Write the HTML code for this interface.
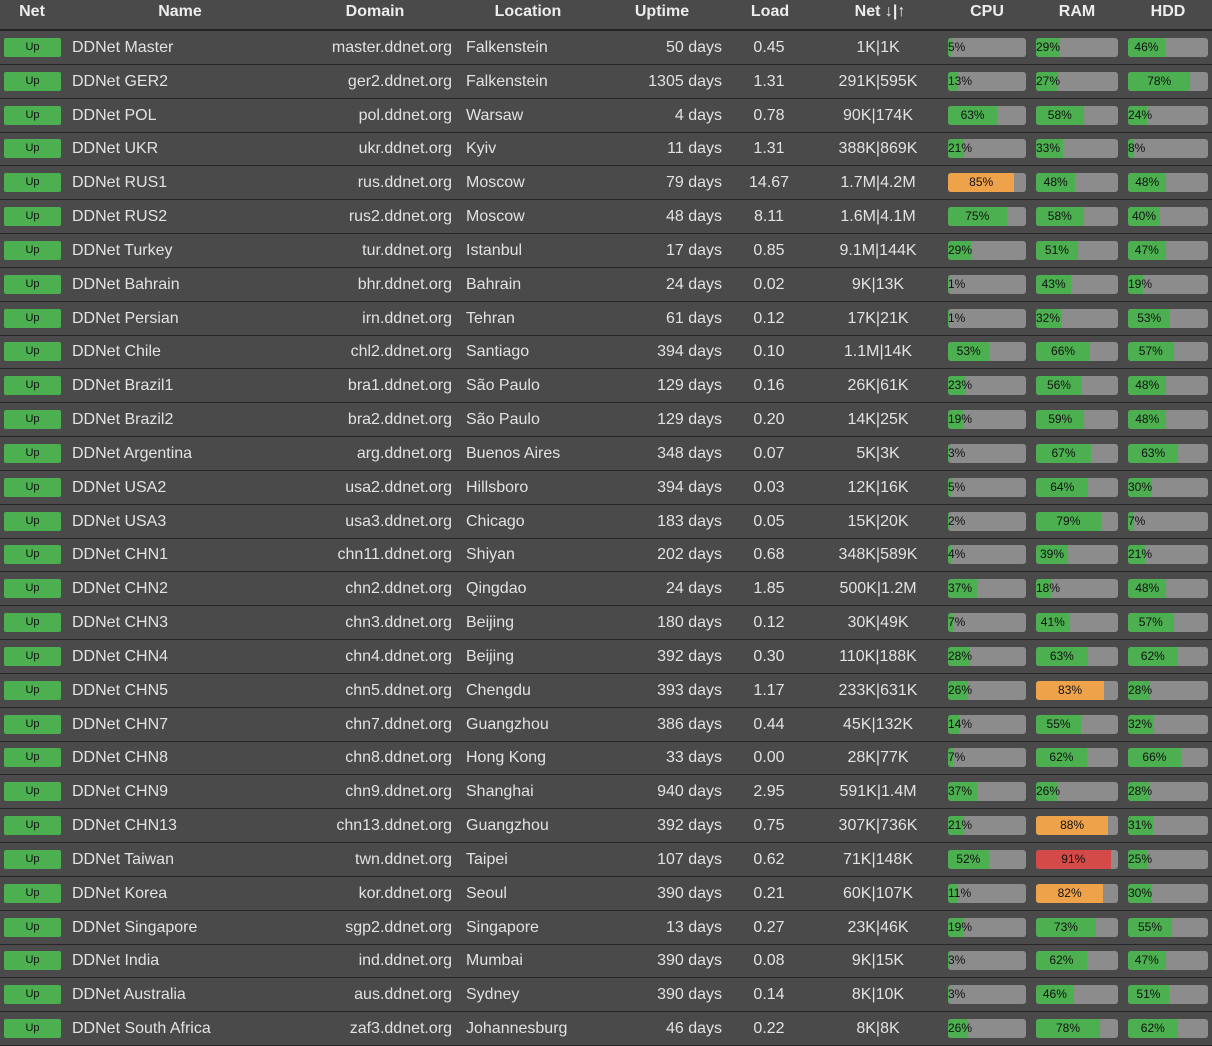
<!DOCTYPE html>
<html><head><meta charset="utf-8">
<style>
html,body{margin:0;padding:0;background:#4a4a4a;width:1212px;height:1043px;overflow:hidden;font-family:"Liberation Sans",sans-serif;}
#hdr{position:absolute;left:0;top:0;width:1212px;height:29px;border-bottom:2px solid #222;color:#ececec;font-weight:bold;font-size:16px;}
#hdr div{position:absolute;top:3px;text-align:center}
.row{position:absolute;left:0;width:1212px;height:33px;border-bottom:1px solid #262626;color:#e2e2e2;font-size:16px;}
.row > div{position:absolute;top:8px;white-space:nowrap}
.row > .up{position:absolute;left:4px;top:7px;width:57px;height:19px;background:#4caf50;border-radius:2px;font-size:11px;color:#111;text-align:center;line-height:19px}
.row > .bar{position:absolute;top:7px;height:19px;width:78px;background:#8c8c8c;border-radius:3px;overflow:hidden;font-size:12px;color:#111}
.fill{position:absolute;left:0;top:0;height:19px;line-height:19px}
.lbl{position:absolute;top:0;line-height:19px;white-space:nowrap}
</style></head><body>
<div id="hdr">
<div style="left:0;width:64px">Net</div>
<div style="left:100px;width:160px">Name</div>
<div style="left:320px;width:110px">Domain</div>
<div style="left:470px;width:116px">Location</div>
<div style="left:610px;width:104px">Uptime</div>
<div style="left:740px;width:60px">Load</div>
<div style="left:830px;width:100px">Net ↓|↑</div>
<div style="left:948px;width:78px">CPU</div>
<div style="left:1038px;width:78px">RAM</div>
<div style="left:1128px;width:80px">HDD</div>
</div>
<div id="body"></div>
<script>
const names=["DDNet Master","DDNet GER2","DDNet POL","DDNet UKR","DDNet RUS1","DDNet RUS2","DDNet Turkey","DDNet Bahrain","DDNet Persian","DDNet Chile","DDNet Brazil1","DDNet Brazil2","DDNet Argentina","DDNet USA2","DDNet USA3","DDNet CHN1","DDNet CHN2","DDNet CHN3","DDNet CHN4","DDNet CHN5","DDNet CHN7","DDNet CHN8","DDNet CHN9","DDNet CHN13","DDNet Taiwan","DDNet Korea","DDNet Singapore","DDNet India","DDNet Australia","DDNet South Africa"];
const domains=["master","ger2","pol","ukr","rus","rus2","tur","bhr","irn","chl2","bra1","bra2","arg","usa2","usa3","chn11","chn2","chn3","chn4","chn5","chn7","chn8","chn9","chn13","twn","kor","sgp2","ind","aus","zaf3"];
const locations=["Falkenstein","Falkenstein","Warsaw","Kyiv","Moscow","Moscow","Istanbul","Bahrain","Tehran","Santiago","São Paulo","São Paulo","Buenos Aires","Hillsboro","Chicago","Shiyan","Qingdao","Beijing","Beijing","Chengdu","Guangzhou","Hong Kong","Shanghai","Guangzhou","Taipei","Seoul","Singapore","Mumbai","Sydney","Johannesburg"];
const uptimes=[50,1305,4,11,79,48,17,24,61,394,129,129,348,394,183,202,24,180,392,393,386,33,940,392,107,390,13,390,390,46];
const loads=["0.45","1.31","0.78","1.31","14.67","8.11","0.85","0.02","0.12","0.10","0.16","0.20","0.07","0.03","0.05","0.68","1.85","0.12","0.30","1.17","0.44","0.00","2.95","0.75","0.62","0.21","0.27","0.08","0.14","0.22"];
const nets=["1K|1K","291K|595K","90K|174K","388K|869K","1.7M|4.2M","1.6M|4.1M","9.1M|144K","9K|13K","17K|21K","1.1M|14K","26K|61K","14K|25K","5K|3K","12K|16K","15K|20K","348K|589K","500K|1.2M","30K|49K","110K|188K","233K|631K","45K|132K","28K|77K","591K|1.4M","307K|736K","71K|148K","60K|107K","23K|46K","9K|15K","8K|10K","8K|8K"];
const cpu=[5,13,63,21,85,75,29,1,1,53,23,19,3,5,2,4,37,7,28,26,14,7,37,21,52,11,19,3,3,26];
const ram=[29,27,58,33,48,58,51,43,32,66,56,59,67,64,79,39,18,41,63,83,55,62,26,88,91,82,73,62,46,78];
const hdd=[46,78,24,8,48,40,47,19,53,57,48,48,63,30,7,21,48,57,62,28,32,66,28,31,25,30,55,47,51,62];
const body=document.getElementById('body');
const rowY=i=>31+i*33.83;
function cell(row,left,w,align,text,name){
  const d=document.createElement('div');
  d.style.left=left+'px';d.style.width=w+'px';d.style.textAlign=align;d.textContent=text;
  
  
  row.appendChild(d);
}
function bar(row,left,w,v,name){
  const b=document.createElement('div');b.className='bar';b.style.left=left+'px';b.style.width=w+'px';
  
  
  const f=document.createElement('div');f.className='fill';
  const fw=Math.max(2,w*v/100);f.style.width=fw+'px';
  f.style.background=v>=90?'#d44a48':v>=80?'#eea24a':'#4caf50';
  
  
  b.appendChild(f);
  const l=document.createElement('span');l.className='lbl';l.textContent=v+'%';
  const tw=v>=10?24:17;
  l.style.left=(fw>=tw+6?(fw-tw)/2:0)+'px';
  b.appendChild(l);
  row.appendChild(b);
}
names.forEach((n,i)=>{
  const r=document.createElement('div');r.className='row';r.style.top=rowY(i)+'px';
  
  
  const u=document.createElement('div');u.className='up';u.textContent='Up';
  
  
  r.appendChild(u);
  cell(r,72,200,'left',n,'server-name');
  cell(r,280,172,'right',domains[i]+'.ddnet.org','server-domain');
  cell(r,466,150,'left',locations[i],'server-location');
  cell(r,600,122,'right',uptimes[i]+' days','server-uptime');
  cell(r,740,58,'center',loads[i],'server-load');
  cell(r,820,116,'center',nets[i],'server-net');
  bar(r,948,78,cpu[i],'cpu-bar');
  bar(r,1036,82,ram[i],'ram-bar');
  bar(r,1128,80,hdd[i],'hdd-bar');
  body.appendChild(r);
});
</script>
</body></html>
